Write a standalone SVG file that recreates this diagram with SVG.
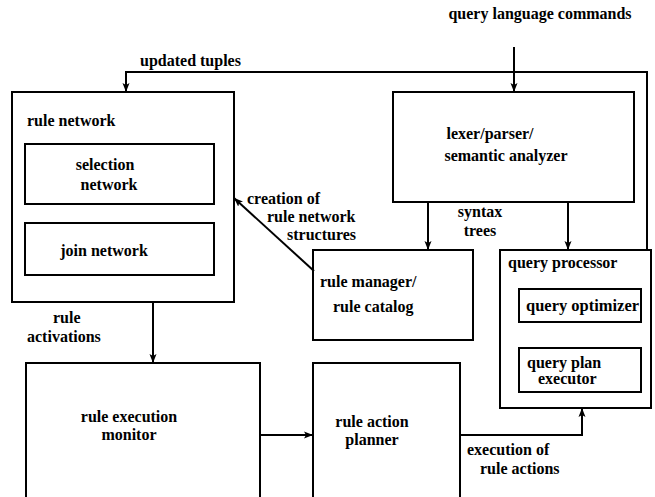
<svg xmlns="http://www.w3.org/2000/svg" width="655" height="497" viewBox="0 0 655 497">
<defs>
<style>
.box{fill:none;stroke:#000;stroke-width:2}
.ln{fill:none;stroke:#000;stroke-width:2}
.t{font-family:'Liberation Serif','Times New Roman',Times,serif;font-size:16px;font-weight:bold;fill:#000}
.m{text-anchor:middle}
</style>
<marker id="ah" markerWidth="10" markerHeight="8" refX="9" refY="4" orient="auto" markerUnits="userSpaceOnUse">
<path d="M0,0.5 L9,4 L0,7.5 L2,4 z" fill="#000"/>
</marker>
</defs>
<rect width="655" height="497" fill="#fff"/>

<g id="rule-network">
<rect class="box" x="12" y="92" width="222" height="210"/>
<text class="t" x="27" y="126">rule network</text>
</g>
<g id="selection-network">
<rect class="box" x="25" y="144" width="189" height="60"/>
<text class="t m" x="105" y="170">selection</text>
<text class="t m" x="109" y="190">network</text>
</g>
<g id="join-network">
<rect class="box" x="25" y="223" width="189" height="52"/>
<text class="t m" x="104" y="256">join network</text>
</g>
<g id="lexer-parser">
<rect class="box" x="393" y="92" width="241" height="110"/>
<text class="t m" x="490" y="139">lexer/parser/</text>
<text class="t m" x="506" y="161">semantic analyzer</text>
</g>
<g id="rule-manager">
<rect class="box" x="313" y="250" width="160" height="90"/>
<text class="t" x="320" y="287">rule manager/</text>
<text class="t" x="333" y="312">rule catalog</text>
</g>
<g id="query-processor">
<rect class="box" x="500" y="250" width="151" height="158"/>
<text class="t" x="508" y="268">query processor</text>
</g>
<g id="query-optimizer">
<rect class="box" x="519" y="289" width="122" height="33"/>
<text class="t" x="526" y="311" textLength="113" lengthAdjust="spacingAndGlyphs">query optimizer</text>
</g>
<g id="query-plan-executor">
<rect class="box" x="519" y="348" width="122" height="44"/>
<text class="t" x="527" y="368">query plan</text>
<text class="t" x="538" y="384">executor</text>
</g>
<g id="rule-execution-monitor">
<path class="box" d="M26,500 V363 H260 V500"/>
<text class="t m" x="129" y="422">rule execution</text>
<text class="t m" x="129" y="440">monitor</text>
</g>
<g id="rule-action-planner">
<path class="box" d="M313,500 V363 H460 V500"/>
<text class="t m" x="372" y="427">rule action</text>
<text class="t m" x="372" y="445">planner</text>
</g>

<g id="connectors">
<path class="ln" d="M647,250 V72 H126 V92" marker-end="url(#ah)"/>
<path class="ln" d="M514,47 V92" marker-end="url(#ah)"/>
<path class="ln" d="M428,202 V250" marker-end="url(#ah)"/>
<path class="ln" d="M568,202 V250" marker-end="url(#ah)"/>
<path class="ln" d="M314,271 L234,198" marker-end="url(#ah)"/>
<path class="ln" d="M153,302 V363" marker-end="url(#ah)"/>
<path class="ln" d="M260,435 H313" marker-end="url(#ah)"/>
<path class="ln" d="M460,435 H582 V408" marker-end="url(#ah)"/>
</g>

<g id="labels">
<text class="t" x="140" y="66">updated tuples</text>
<text class="t m" x="540" y="19">query language commands</text>
<text class="t" x="247" y="204">creation of</text>
<text class="t" x="267" y="222">rule network</text>
<text class="t" x="287" y="240">structures</text>
<text class="t m" x="480" y="217">syntax</text>
<text class="t m" x="480" y="236">trees</text>
<text class="t" x="53" y="323">rule</text>
<text class="t" x="27" y="342">activations</text>
<text class="t" x="467" y="455">execution of</text>
<text class="t" x="480" y="474">rule actions</text>
</g>
</svg>
